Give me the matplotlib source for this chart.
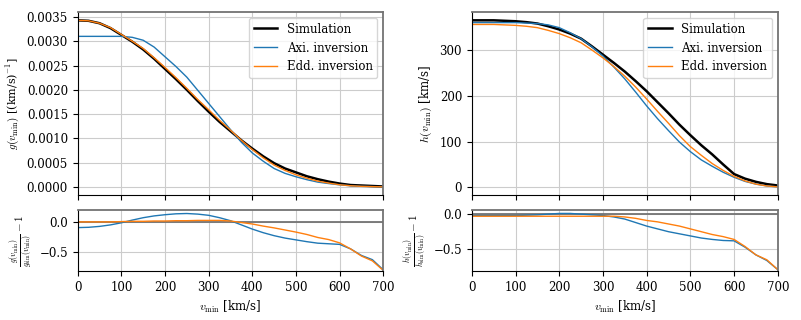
import matplotlib
matplotlib.use("Agg")
import matplotlib.pyplot as plt

plt.rcParams['font.family'] = 'DejaVu Serif'
plt.rcParams['mathtext.fontset'] = 'cm'
plt.rcParams['font.size'] = 8

########## data ##########
v_min = [0, 25, 50, 75, 100, 125, 150, 175, 200, 225, 250, 275, 300, 325, 350,
         375, 400, 425, 450, 475, 500, 525, 550, 575, 600, 625, 650, 675, 700]

# g(v_min) in units of 1e-3 (km/s)^-1
g_sim = [3.43, 3.42, 3.37, 3.27, 3.13, 2.99, 2.83, 2.64, 2.43, 2.22, 2.00, 1.77, 1.55, 1.34, 1.15,
         0.96, 0.79, 0.63, 0.49, 0.38, 0.30, 0.22, 0.16, 0.11, 0.07, 0.04, 0.03, 0.02, 0.01]
g_axi = [3.10, 3.10, 3.10, 3.10, 3.10, 3.08, 3.02, 2.88, 2.68, 2.48, 2.26, 1.99, 1.72, 1.45, 1.18,
         0.92, 0.70, 0.53, 0.38, 0.28, 0.21, 0.15, 0.10, 0.07, 0.044, 0.025, 0.013, 0.007, 0.002]
g_edd = [3.43, 3.42, 3.37, 3.28, 3.14, 3.00, 2.85, 2.66, 2.46, 2.25, 2.03, 1.80, 1.59, 1.37, 1.17,
         0.96, 0.77, 0.60, 0.45, 0.34, 0.25, 0.18, 0.12, 0.08, 0.045, 0.025, 0.013, 0.007, 0.002]

g_axi_ratio = [-0.095, -0.09, -0.075, -0.05, -0.015, 0.03, 0.07, 0.10, 0.12, 0.135, 0.14, 0.13, 0.11, 0.07, 0.02,
               -0.05, -0.12, -0.18, -0.23, -0.27, -0.30, -0.33, -0.355, -0.365, -0.375, -0.45, -0.56, -0.63, -0.80]
g_edd_ratio = [0.0, 0.0, 0.0, 0.0, 0.005, 0.01, 0.01, 0.015, 0.015, 0.02, 0.02, 0.025, 0.025, 0.025, 0.015,
               -0.01, -0.035, -0.07, -0.10, -0.135, -0.17, -0.21, -0.26, -0.295, -0.35, -0.45, -0.57, -0.65, -0.81]

# h(v_min) in km/s
h_sim = [365, 365, 365, 364, 363, 361, 358, 352, 345, 336, 325, 308, 290, 272, 253,
         232, 210, 186, 162, 137, 114, 92, 72, 50, 29, 19, 12, 7, 4]
h_axi = [360, 360, 360, 360, 360, 359, 358, 355, 349, 338, 325, 307, 287, 263, 237,
         208, 178, 150, 124, 99, 78, 60, 46, 33, 22, 13, 7, 3, 1]
h_edd = [356, 356, 356, 355, 354, 352, 349, 343, 336, 327, 316, 300, 283, 264, 243,
         219, 193, 166, 140, 113, 89, 70, 52, 37, 24, 14, 7, 3, 1]

h_axi_ratio = [-0.02, -0.02, -0.02, -0.02, -0.02, -0.015, -0.01, 0.0, 0.01, 0.01, 0.0, -0.01, -0.02, -0.04, -0.07,
               -0.12, -0.17, -0.21, -0.25, -0.28, -0.31, -0.34, -0.36, -0.375, -0.38, -0.47, -0.58, -0.66, -0.79]
h_edd_ratio = [-0.03, -0.03, -0.03, -0.03, -0.03, -0.03, -0.03, -0.03, -0.03, -0.03, -0.03, -0.03, -0.03, -0.03, -0.04,
               -0.06, -0.09, -0.11, -0.14, -0.17, -0.21, -0.25, -0.29, -0.32, -0.36, -0.46, -0.58, -0.65, -0.79]

labels = ["Simulation", "Axi. inversion", "Edd. inversion"]
xticks = [0, 100, 200, 300, 400, 500, 600, 700]

########## figure ##########
fig = plt.figure(figsize=(8.01, 3.2), dpi=100)
ax_g = fig.add_axes([0.097, 0.39, 0.3815, 0.5725])
ax_gr = fig.add_axes([0.097, 0.153, 0.3815, 0.191])
ax_h = fig.add_axes([0.589, 0.39, 0.382, 0.5725])
ax_hr = fig.add_axes([0.589, 0.153, 0.382, 0.191])


def style_axes(ax):
    ax.set_xlim(0, 700)
    ax.set_xticks(xticks)
    ax.grid(True, color='0.8', lw=0.8)
    ax.set_axisbelow(True)
    ax.spines['top'].set_color('0.45')
    ax.spines['right'].set_color('0.45')
    ax.spines['top'].set_linewidth(1.3)
    ax.spines['right'].set_linewidth(1.3)
    ax.tick_params(labelsize=8.5)


g_scale = 1e-3
ax_g.plot(v_min, [g * g_scale for g in g_sim], color='black', lw=1.8, label=labels[0])
ax_g.plot(v_min, [g * g_scale for g in g_axi], color='#1f77b4', lw=1.0, label=labels[1])
ax_g.plot(v_min, [g * g_scale for g in g_edd], color='#ff7f0e', lw=1.0, label=labels[2])
style_axes(ax_g)
ax_g.set_xticklabels([])
ax_g.set_yticks([0, 0.0005, 0.001, 0.0015, 0.002, 0.0025, 0.003, 0.0035])
ax_g.set_ylabel(r"$g(v_\mathrm{min})$ [(km/s)$^{-1}$]", fontsize=8)
ax_g.legend(loc='upper right', fontsize=8.5)

ax_gr.axhline(0, color='0.45', lw=1.3)
ax_gr.plot(v_min, g_axi_ratio, color='#1f77b4', lw=1.0)
ax_gr.plot(v_min, g_edd_ratio, color='#ff7f0e', lw=1.0)
style_axes(ax_gr)
ax_gr.set_ylim(-0.82, 0.2)
ax_gr.set_yticks([-0.5, 0.0])
ax_gr.set_xlabel(r"$v_\mathrm{min}$ [km/s]", fontsize=8.5)
ax_gr.set_ylabel(r"$\frac{g(v_\mathrm{min})}{g_\mathrm{sim}(v_\mathrm{min})}-1$", fontsize=8)

ax_h.plot(v_min, h_sim, color='black', lw=1.8, label=labels[0])
ax_h.plot(v_min, h_axi, color='#1f77b4', lw=1.0, label=labels[1])
ax_h.plot(v_min, h_edd, color='#ff7f0e', lw=1.0, label=labels[2])
style_axes(ax_h)
ax_h.set_xticklabels([])
ax_h.set_yticks([0, 100, 200, 300])
ax_h.set_ylabel(r"$h(v_\mathrm{min})$ [km/s]", fontsize=8.5)
ax_h.legend(loc='upper right', fontsize=8.5)

ax_hr.axhline(0, color='0.45', lw=1.3)
ax_hr.plot(v_min, h_axi_ratio, color='#1f77b4', lw=1.0)
ax_hr.plot(v_min, h_edd_ratio, color='#ff7f0e', lw=1.0)
style_axes(ax_hr)
ax_hr.set_ylim(-0.81, 0.06)
ax_hr.set_yticks([-0.5, 0.0])
ax_hr.set_xlabel(r"$v_\mathrm{min}$ [km/s]", fontsize=8.5)
ax_hr.set_ylabel(r"$\frac{h(v_\mathrm{min})}{h_\mathrm{sim}(v_\mathrm{min})}-1$", fontsize=8)

fig.savefig("out.png", dpi=100)
